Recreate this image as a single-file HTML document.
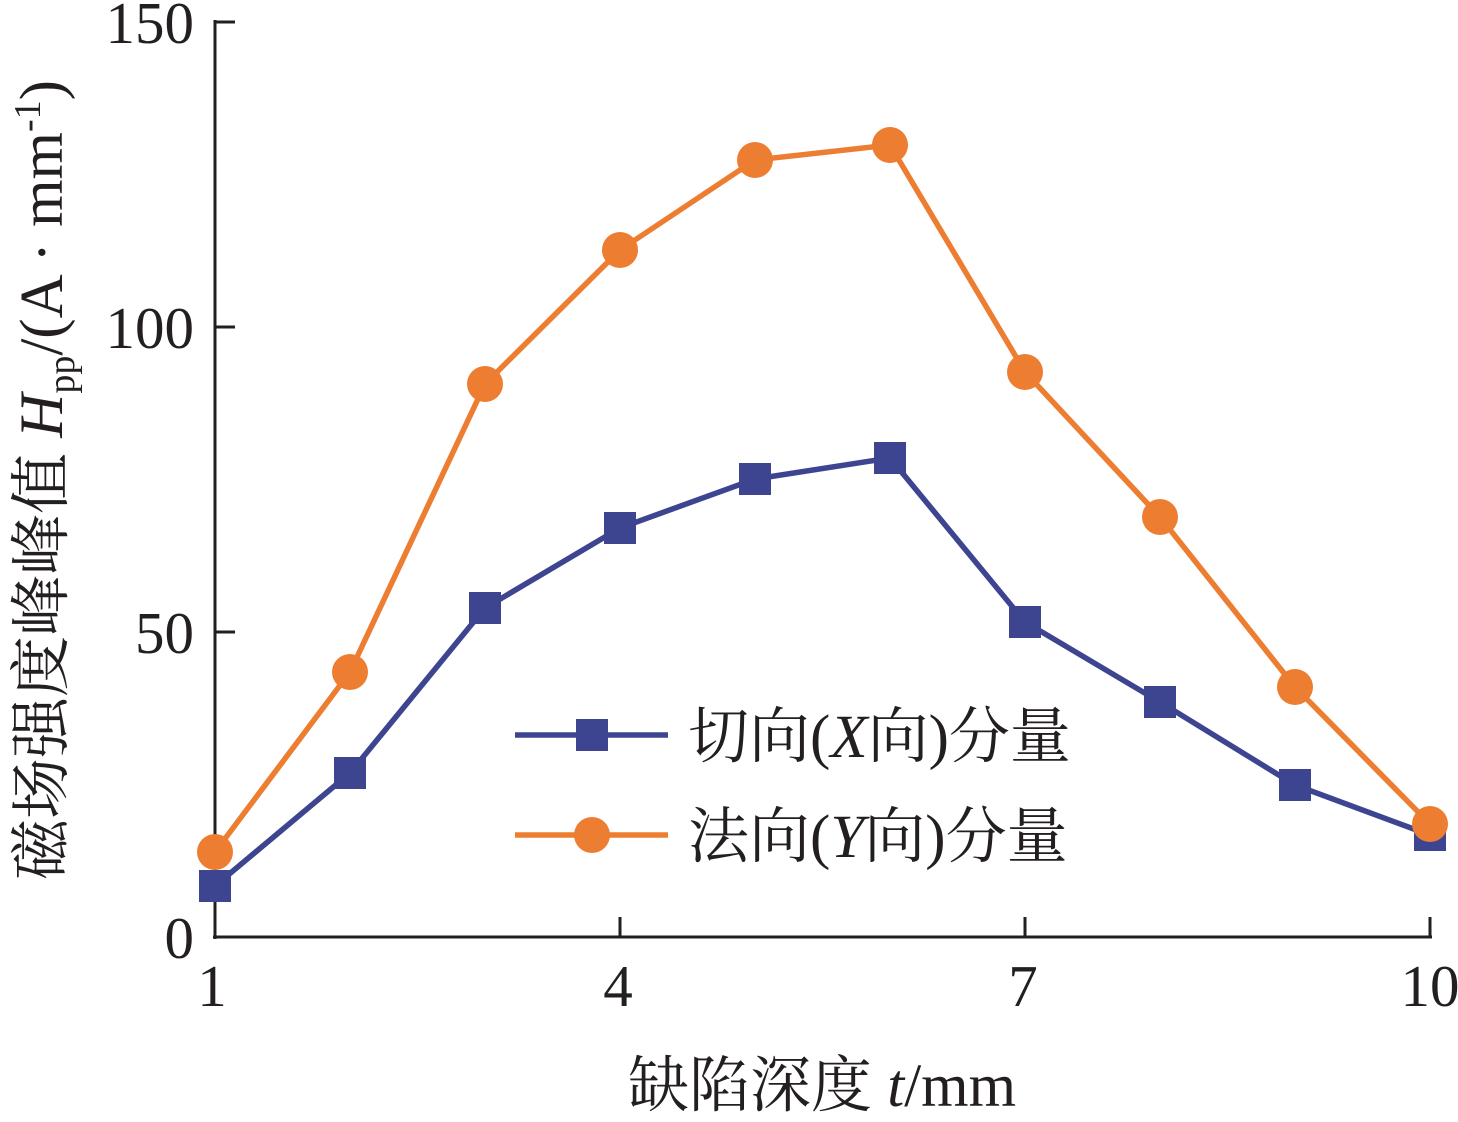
<!DOCTYPE html>
<html><head><meta charset="utf-8"><style>
html,body{margin:0;padding:0;background:#fff;}
svg text{font-family:"Liberation Serif","Noto Serif CJK SC",serif;fill:#231f20;}
</style></head><body>
<svg width="1458" height="1117" viewBox="0 0 1458 1117" xmlns="http://www.w3.org/2000/svg">
<g stroke="#231f20" stroke-width="3" fill="none">
<line x1="215" y1="20" x2="215" y2="939"/>
<line x1="213" y1="937" x2="1432" y2="937"/>
<line x1="215" y1="22" x2="235" y2="22"/>
<line x1="215" y1="327" x2="235" y2="327"/>
<line x1="215" y1="632" x2="235" y2="632"/>
<line x1="620" y1="937" x2="620" y2="917"/>
<line x1="1025" y1="937" x2="1025" y2="917"/>
<line x1="1430" y1="937" x2="1430" y2="917"/>
</g>
<g font-size="59" text-anchor="end">
<text x="194" y="43">150</text>
<text x="194" y="348">100</text>
<text x="194" y="653">50</text>
<text x="194" y="958">0</text>
</g>
<g font-size="59" text-anchor="middle">
<text x="212" y="1006">1</text>
<text x="618" y="1006">4</text>
<text x="1023" y="1006">7</text>
<text x="1430" y="1006">10</text>
</g>
<text x="822" y="1106" font-size="61" text-anchor="middle">缺陷深度 <tspan font-style="italic">t</tspan>/mm</text>
<text transform="translate(62,480) rotate(-90)" font-size="61" text-anchor="middle">磁场强度峰峰值 <tspan font-style="italic">H</tspan><tspan font-size="38" dy="12">pp</tspan><tspan dy="-12">/(A · mm</tspan><tspan font-size="38" dy="-22">-1</tspan><tspan dy="22">)</tspan></text>
<polyline fill="none" stroke="#3d4490" stroke-width="5.5" points="215,886 350,773 485,608 620,528 755,479 890,458 1025,622 1160,702 1295,785 1430,835"/>
<polyline fill="none" stroke="#ed7d31" stroke-width="5.5" points="215,852 350,672 485,384 620,250 755,160 890,145 1025,372 1160,517 1295,687 1430,824"/>
<g fill="#3d4490">
<rect x="199" y="870" width="32" height="32"/><rect x="334" y="757" width="32" height="32"/><rect x="469" y="592" width="32" height="32"/><rect x="604" y="512" width="32" height="32"/><rect x="739" y="463" width="32" height="32"/><rect x="874" y="442" width="32" height="32"/><rect x="1009" y="606" width="32" height="32"/><rect x="1144" y="686" width="32" height="32"/><rect x="1279" y="769" width="32" height="32"/><rect x="1414" y="819" width="32" height="32"/>
</g>
<g fill="#ed7d31">
<circle cx="215" cy="852" r="18"/><circle cx="350" cy="672" r="18"/><circle cx="485" cy="384" r="18"/><circle cx="620" cy="250" r="18"/><circle cx="755" cy="160" r="18"/><circle cx="890" cy="145" r="18"/><circle cx="1025" cy="372" r="18"/><circle cx="1160" cy="517" r="18"/><circle cx="1295" cy="687" r="18"/><circle cx="1430" cy="824" r="18"/>
</g>
<line x1="515" y1="735" x2="668" y2="735" stroke="#3d4490" stroke-width="5.5"/>
<rect x="576" y="719" width="32" height="32" fill="#3d4490"/>
<line x1="515" y1="835" x2="668" y2="835" stroke="#ed7d31" stroke-width="5.5"/>
<circle cx="592" cy="835" r="18" fill="#ed7d31"/>
<text x="688" y="757" font-size="61">切向(<tspan font-style="italic">X</tspan>向)分量</text>
<text x="688" y="857" font-size="61">法向(<tspan font-style="italic">Y</tspan>向)分量</text>
</svg>
</body></html>
